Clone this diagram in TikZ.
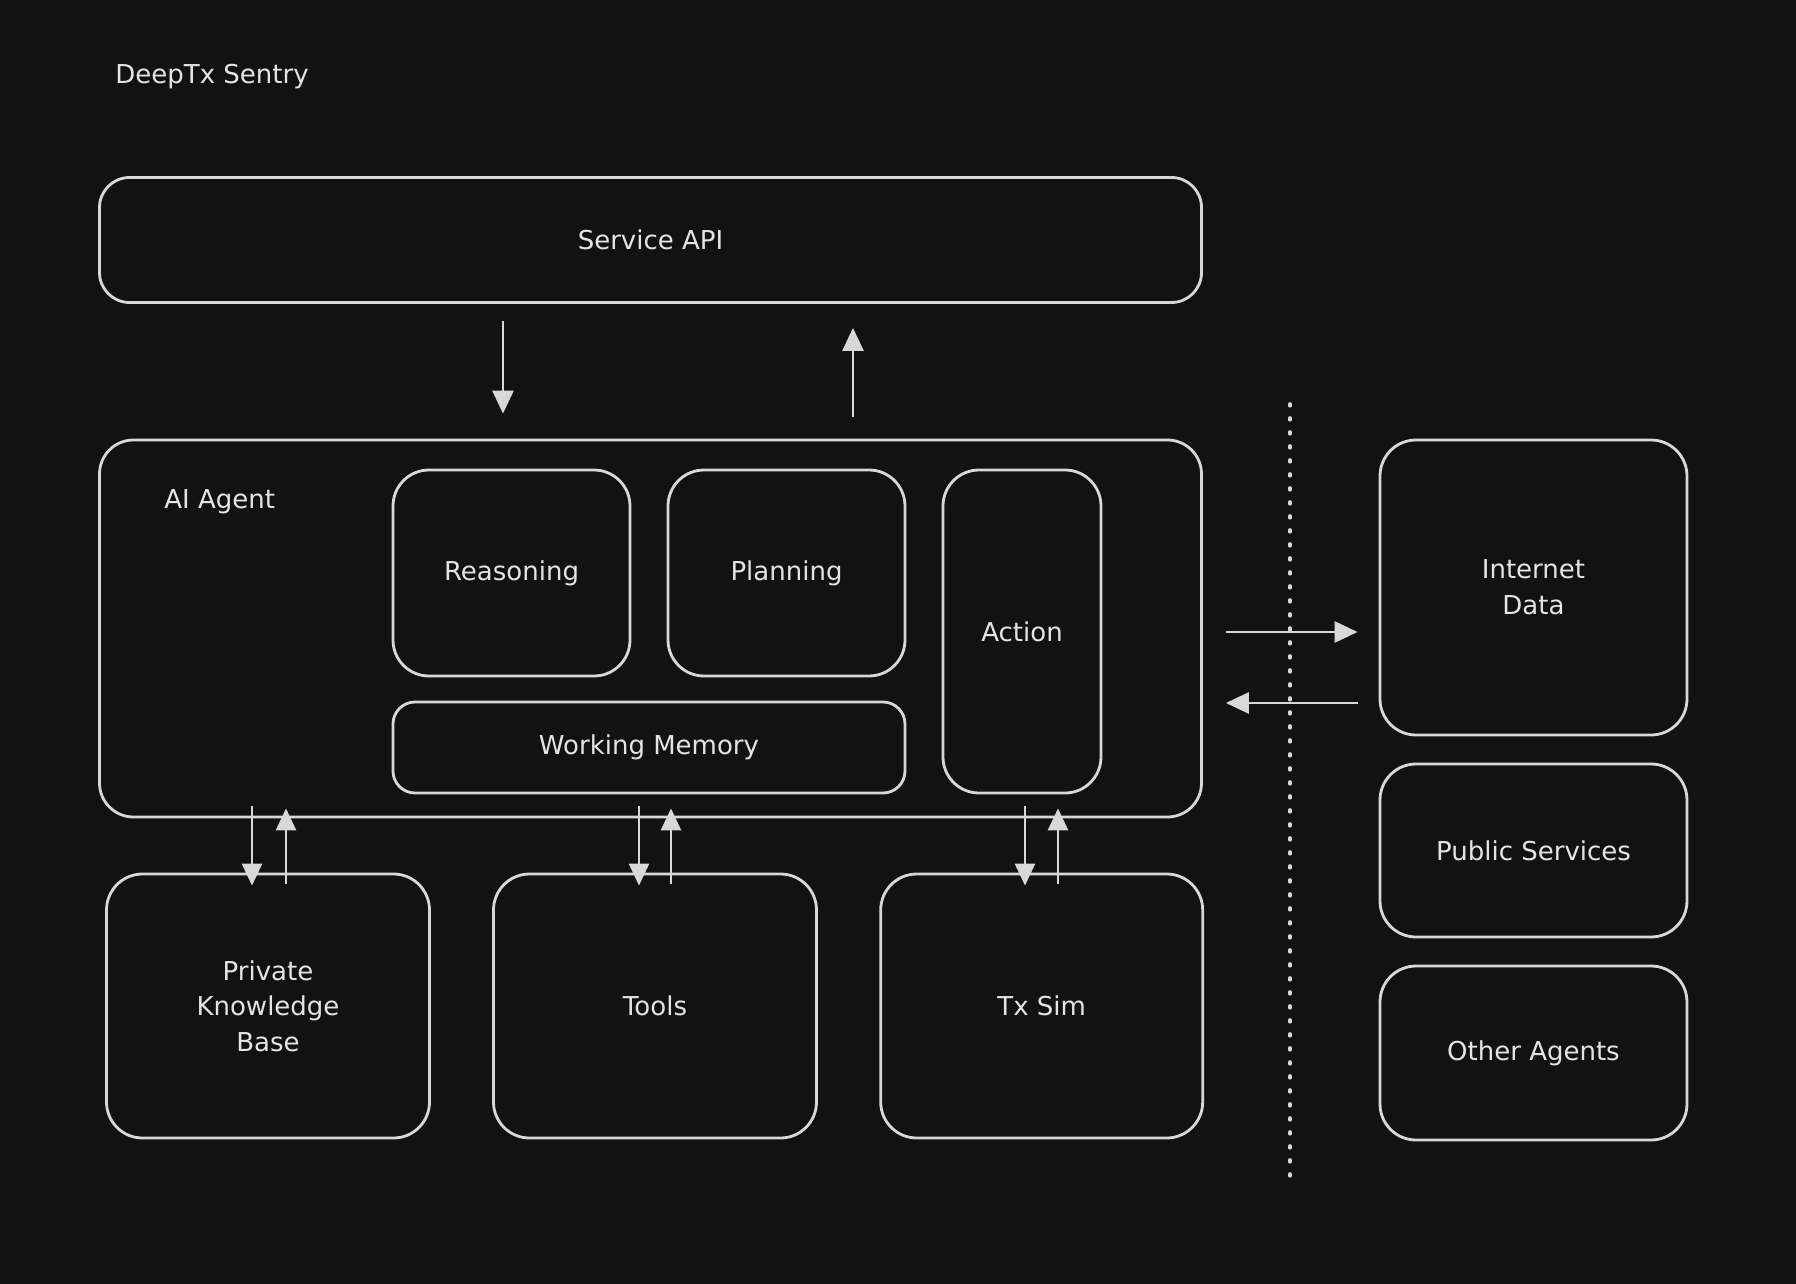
\documentclass[tikz,border=0pt]{standalone}
\usepackage{fontspec}
\setmainfont{DejaVu Sans}
\usetikzlibrary{arrows.meta}
\definecolor{bg}{HTML}{121212}
\definecolor{ink}{HTML}{D8D8D8}
\definecolor{txt}{HTML}{E4E4E4}
\tikzset{
  box/.style={draw=ink, line width=1.4pt, rounded corners=#1, text=txt, align=center,
    font=\fontsize{13}{17.8}\selectfont, inner sep=0pt},
  box/.default=17pt,
  lbl/.style={text=txt, font=\fontsize{13}{17.8}\selectfont, inner sep=0pt, anchor=west},
  arr/.style={draw=ink, line width=1.35pt, -{Triangle[length=11.5pt,width=10.5pt]}},
  sarr/.style={draw=ink, line width=1.35pt, -{Triangle[length=11pt,width=10pt]}},
  sep/.style={draw=ink, line width=1.8pt, line cap=round, dash pattern=on 0.9pt off 6.1pt}
}
\begin{document}
\begin{tikzpicture}[x=0.5pt,y=-0.5pt]
\fill[bg] (0,0) rectangle (1796,1284);
\useasboundingbox (0,0) rectangle (1796,1284);

\node[lbl] (title) at (115,77) {DeepTx Sentry};

\node[box=15pt, minimum width=551pt, minimum height=62.5pt] (api) at (650.5,240) {Service API};
\node[box=17pt, minimum width=551pt, minimum height=188.5pt] (agent) at (650.5,628.5) {};
\node[lbl] (agentlbl) at (164,502) {AI Agent};

\node[box=18pt, minimum width=118.5pt, minimum height=103pt] (reason) at (511.5,573) {Reasoning};
\node[box=18pt, minimum width=118.5pt, minimum height=103pt] (plan) at (786.5,573) {Planning};
\node[box=18pt, minimum width=79pt, minimum height=161.5pt] (action) at (1022,631.5) {Action};
\node[box=11pt, minimum width=256pt, minimum height=45.5pt] (wm) at (649,747.5) {Working Memory};

\node[box=18pt, minimum width=161.5pt, minimum height=132pt] (pkb) at (268,1006) {Private\\Knowledge\\Base};
\node[box=18pt, minimum width=161.5pt, minimum height=132pt] (tools) at (655,1006) {Tools};
\node[box=18pt, minimum width=161pt, minimum height=132pt] (txsim) at (1041.7,1006) {Tx Sim};

\node[box=18pt, minimum width=153.5pt, minimum height=147.5pt] (inet) at (1533.5,587.5) {Internet\\Data};
\node[box=18pt, minimum width=153.5pt, minimum height=86.5pt] (pub) at (1533.5,850.5) {Public Services};
\node[box=18pt, minimum width=153.5pt, minimum height=87pt] (other) at (1533.5,1053) {Other Agents};

% x / y guides
\coordinate (xd) at (503,0);
\coordinate (xu) at (853,0);
\coordinate (x1d) at (252,0);
\coordinate (x1u) at (286,0);
\coordinate (x2d) at (639,0);
\coordinate (x2u) at (671,0);
\coordinate (x3d) at (1025,0);
\coordinate (x3u) at (1058,0);
\coordinate (yr) at (0,632);
\coordinate (yl) at (0,703);

% API <-> agent
\draw[arr, shorten <=8.5pt, shorten >=12.5pt] (api.south -| xd) -- (agent.north -| xd);
\draw[arr, shorten <=11pt, shorten >=12pt] (agent.north -| xu) -- (api.south -| xu);

% agent <-> bottom boxes
\draw[sarr, shorten <=-6pt, shorten >=-6.5pt] (agent.south -| x1d) -- (pkb.north -| x1d);
\draw[sarr, shorten <=-5.5pt, shorten >=-5pt] (pkb.north -| x1u) -- (agent.south -| x1u);
\draw[sarr, shorten <=-6pt, shorten >=-6.5pt] (agent.south -| x2d) -- (tools.north -| x2d);
\draw[sarr, shorten <=-5.5pt, shorten >=-5pt] (tools.north -| x2u) -- (agent.south -| x2u);
\draw[sarr, shorten <=-6pt, shorten >=-6.5pt] (agent.south -| x3d) -- (txsim.north -| x3d);
\draw[sarr, shorten <=-5.5pt, shorten >=-5pt] (txsim.north -| x3u) -- (agent.south -| x3u);

% agent <-> internet
\draw[arr, shorten <=11.5pt, shorten >=10.5pt] (agent.east |- yr) -- (inet.west |- yr);
\draw[arr, shorten <=10.5pt, shorten >=11.5pt] (inet.west |- yl) -- (agent.east |- yl);

% separator
\coordinate (sept) at (1290,404);
\coordinate (sepb) at (1290,1177);
\draw[sep] (sept) -- (sepb);
\end{tikzpicture}
\end{document}
